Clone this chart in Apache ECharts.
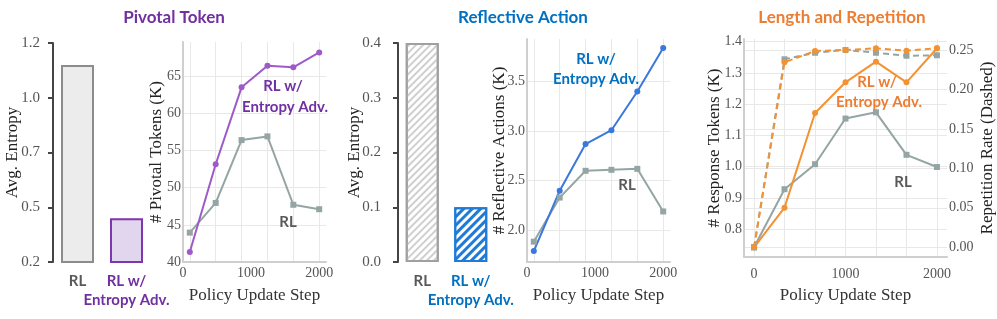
<!DOCTYPE html>
<html>
<head>
<meta charset="utf-8">
<script src="https://cdn.jsdelivr.net/npm/echarts@6/dist/echarts.min.js"></script>
<style>html,body{margin:0;padding:0;background:#fff;}#c{width:997px;height:319px;}</style>
</head>
<body>
<div id="c"></div>
<script>
// ---------- data ----------
const barCats = ['RL', 'RL w/\nEntropy Adv.'];
const pivotalEntropy = [1.1, 0.4];
const pivotalEntropyTicks = ['0.2', '0.5', '0.7', '1.0', '1.2'];
const stepsA = [100, 480, 860, 1240, 1620, 2000];
const pivotalRL = [43.95, 47.95, 56.4, 56.9, 47.7, 47.1];
const pivotalEnt = [41.35, 53.15, 63.5, 66.4, 66.2, 68.2];
const pivotalTicks = [40, 45, 50, 55, 60, 65];
const reflectEntropy = [0.4, 0.1];
const reflectRL = [1.885, 2.33, 2.60, 2.61, 2.62, 2.19];
const reflectEnt = [1.79, 2.40, 2.87, 3.01, 3.40, 3.84];
const reflectTicks = [2.0, 2.5, 3.0, 3.5];
const stepsB = [0, 333, 667, 1000, 1333, 1667, 2000];
const lenRL = [0.742, 0.928, 1.008, 1.154, 1.174, 1.038, 0.999];
const lenEnt = [0.742, 0.869, 1.172, 1.270, 1.336, 1.270, 1.379];
const repRL = [0, 0.2382, 0.2465, 0.25, 0.2465, 0.2427, 0.2433];
const repEnt = [0, 0.2344, 0.2487, 0.25, 0.2521, 0.2491, 0.2521];
const lenTicks = [0.8, 0.9, 1.0, 1.1, 1.2, 1.3, 1.4];
const repTicks = [0, 0.05, 0.10, 0.15, 0.20, 0.25];
const stepLabels = [0, 1000, 2000];

// ---------- style ----------
const PURPLE = '#7030a0', PURPLE_LINE = '#9d5ac8';
const BLUE = '#0070c0', BLUE_LINE = '#3a78dc';
const ORANGE = '#ed7d31', ORANGE_LINE = '#f39233';
const GRAY_LINE = '#95a5a4', RLTXT = '#595959';
const SERIF = '"Liberation Serif", serif';
const SANS = 'Lato, sans-serif';
const pairs = (xs, ys) => xs.map((x, i) => [x, ys[i]]);

function barXAxis(gi, color2) {
  return {
    type: 'category', gridIndex: gi, data: barCats,
    axisLine: {show: false}, axisTick: {show: false},
    axisLabel: {interval: 0, margin: 10, fontFamily: SANS, fontWeight: 'bold', fontSize: 15, lineHeight: 19,
      color: (v, i) => (i === 0 ? RLTXT : color2)}
  };
}
function barYAxis(gi, min, max, interval, fmt, gap, margin) {
  return {
    type: 'value', gridIndex: gi, min, max, interval,
    name: 'Avg. Entropy', nameLocation: 'middle', nameGap: gap, nameMoveOverlap: false,
    nameTextStyle: {fontFamily: SERIF, fontSize: 17, color: '#222'},
    axisLine: {show: true, lineStyle: {color: '#444', width: 2}},
    axisTick: {show: true, length: 5, lineStyle: {color: '#444', width: 2}},
    axisLabel: {formatter: fmt, fontFamily: SERIF, fontSize: 15, color: '#555', margin},
    splitLine: {show: false}
  };
}
function lineXAxis(gi, min, max, ticks, nameGap, margin) {
  return {
    type: 'value', gridIndex: gi, min, max,
    name: 'Policy Update Step', nameLocation: 'middle', nameGap, nameMoveOverlap: false,
    nameTextStyle: {fontFamily: SERIF, fontSize: 17, color: '#333'},
    axisLine: {show: true, onZero: false, lineStyle: {color: '#cfcfcf', width: 2}},
    axisTick: {show: false, customValues: ticks},
    axisLabel: {customValues: stepLabels, formatter: v => String(Math.round(v)),
      fontFamily: SERIF, fontSize: 14, color: '#555', margin},
    splitLine: {show: true, lineStyle: {color: '#e8e8e8', width: 1}}
  };
}
function lineYAxis(gi, min, max, ticks, name, gap, fmt, extra) {
  return Object.assign({
    type: 'value', gridIndex: gi, min, max,
    name, nameLocation: 'middle', nameGap: gap, nameRotate: 90, nameMoveOverlap: false,
    nameTextStyle: {fontFamily: SERIF, fontSize: 17, color: '#222'},
    axisLine: {show: true, onZero: false, lineStyle: {color: '#cfcfcf', width: 2}},
    axisTick: {show: false, customValues: ticks},
    axisLabel: {customValues: ticks, formatter: fmt, fontFamily: SERIF, fontSize: 14, color: '#555', margin: 2},
    splitLine: {show: true, lineStyle: {color: '#e8e8e8', width: 1}}
  }, extra || {});
}
function lineSeries(xi, yi, data, color, symbol, size, dashed) {
  return {
    type: 'line', xAxisIndex: xi, yAxisIndex: yi, data,
    symbol, symbolSize: size, showSymbol: true,
    lineStyle: {color, width: 2, type: dashed ? [6, 4] : 'solid'},
    itemStyle: {color}, emphasis: {disabled: true}, animation: false
  };
}
function ttl(cx, cy, text, color, size) {
  return {text, left: cx, top: cy - 10, textAlign: 'center', padding: 0,
    textStyle: {fontFamily: SANS, fontWeight: 'bold', fontSize: size || 15, lineHeight: 20, color}};
}

const chart = echarts.init(document.getElementById('c'), null, {renderer: 'canvas'});
chart.setOption({
  animation: false,
  backgroundColor: '#fff',
  title: [
    ttl(174, 18, 'Pivotal Token', PURPLE, 17),
    ttl(523, 18, 'Reflective Action', BLUE, 17),
    ttl(842, 18, 'Length and Repetition', ORANGE, 17),
    ttl(283, 86, 'RL w/', PURPLE), ttl(285, 107, 'Entropy Adv.', PURPLE), ttl(288, 222, 'RL', RLTXT),
    ttl(596, 59, 'RL w/', BLUE), ttl(596, 79, 'Entropy Adv.', BLUE), ttl(627, 185, 'RL', RLTXT),
    ttl(877, 82, 'RL w/', ORANGE), ttl(879, 102, 'Entropy Adv.', ORANGE), ttl(903, 182, 'RL', RLTXT)
  ],
  grid: [
    {left: 53, top: 43, width: 98, height: 219},
    {left: 183, top: 42, width: 143, height: 220},
    {left: 398, top: 43, width: 97, height: 219},
    {left: 527, top: 39, width: 143, height: 223},
    {left: 744, top: 39, width: 203, height: 218}
  ],
  xAxis: [
    barXAxis(0, PURPLE),
    lineXAxis(1, 0, 2100, stepsA, 25, 4),
    barXAxis(2, BLUE),
    lineXAxis(3, 0, 2100, stepsA, 25, 4),
    lineXAxis(4, -110, 2110, stepsB, 30, 10)
  ],
  yAxis: [
    barYAxis(0, 0.2, 1.2, 0.25, v => pivotalEntropyTicks[Math.round((v - 0.2) / 0.25)], 32, 13),
    lineYAxis(1, 40, 69.6, pivotalTicks, '# Pivotal Tokens (K)', 18, v => String(Math.round(v))),
    barYAxis(2, 0, 0.4, 0.1, v => v.toFixed(1), 35, 17),
    lineYAxis(3, 1.68, 3.93, reflectTicks, '# Reflective Actions (K)', 19, v => v.toFixed(1)),
    lineYAxis(4, 0.711, 1.4086, lenTicks, '# Response Tokens (K)', 21, v => v.toFixed(1)),
    lineYAxis(4, -0.0123, 0.2639, repTicks, 'Repetition Rate (Dashed)', 32, v => v.toFixed(2),
      {position: 'right', axisLine: {show: false}})
  ],
  series: [
    {type: 'bar', xAxisIndex: 0, yAxisIndex: 0, barWidth: 33,
      data: pivotalEntropy.map((v, i) => ({value: v, itemStyle: i === 0
        ? {color: '#ececec', borderColor: '#8c8c8c', borderWidth: 2}
        : {color: '#e2d6ee', borderColor: '#7d36ad', borderWidth: 2}}))},
    lineSeries(1, 1, pairs(stepsA, pivotalRL), GRAY_LINE, 'rect', 6),
    lineSeries(1, 1, pairs(stepsA, pivotalEnt), PURPLE_LINE, 'circle', 6),
    {type: 'bar', xAxisIndex: 2, yAxisIndex: 2, barWidth: 33,
      data: reflectEntropy.map((v, i) => ({value: v, itemStyle: i === 0
        ? {color: '#ffffff', borderColor: '#a0a0a0', borderWidth: 2,
           decal: {symbol: 'rect', symbolSize: 1, dashArrayX: [1, 0], dashArrayY: [2, 2.4], rotation: -Math.PI / 4, color: '#cfcfcf'}}
        : {color: '#ffffff', borderColor: '#1f7ad8', borderWidth: 2,
           decal: {symbol: 'rect', symbolSize: 1, dashArrayX: [1, 0], dashArrayY: [2.6, 2.2], rotation: -Math.PI / 4, color: '#1f7ad8'}}}))},
    lineSeries(3, 3, pairs(stepsA, reflectRL), GRAY_LINE, 'rect', 6),
    lineSeries(3, 3, pairs(stepsA, reflectEnt), BLUE_LINE, 'circle', 6),
    lineSeries(4, 5, pairs(stepsB, repRL), GRAY_LINE, 'rect', 6, true),
    lineSeries(4, 5, pairs(stepsB, repEnt), ORANGE_LINE, 'circle', 6, true),
    lineSeries(4, 4, pairs(stepsB, lenRL), GRAY_LINE, 'rect', 6),
    lineSeries(4, 4, pairs(stepsB, lenEnt), ORANGE_LINE, 'circle', 6)
  ]
});
</script>
</body>
</html>
